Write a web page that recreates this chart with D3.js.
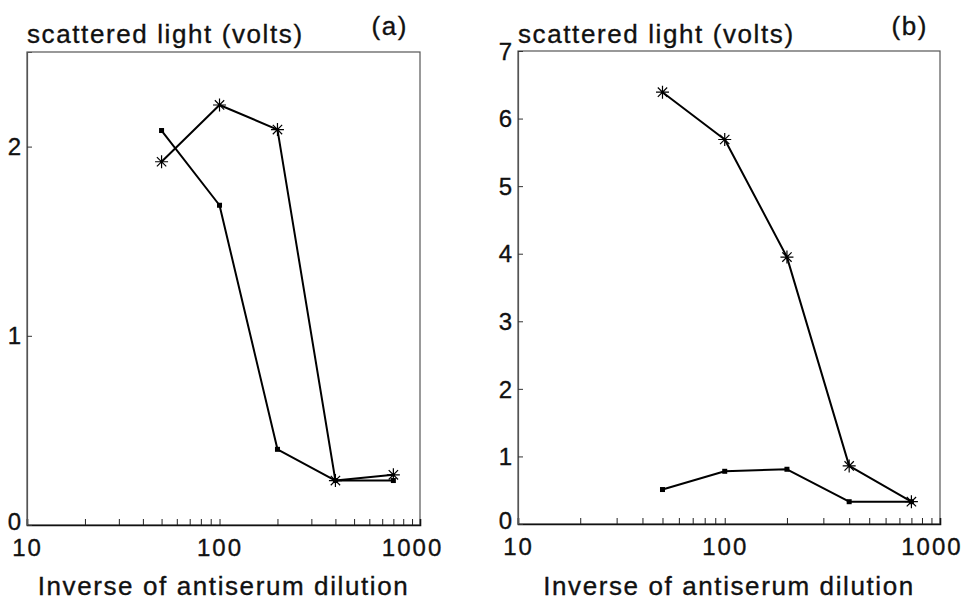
<!DOCTYPE html>
<html>
<head>
<meta charset="utf-8">
<script src="https://cdn.jsdelivr.net/npm/d3@7"></script>
<style>
  body { margin: 0; background: #fff; }
  text { font-family: "Liberation Sans", Arial, Helvetica, sans-serif; fill: #111; stroke: #111; stroke-width: 0.35px; }
  .lbl { font-size: 26px; letter-spacing: 1.6px; }
  .tick text { font-size: 24px; letter-spacing: 2px; }
</style>
</head>
<body>
<svg id="chart" width="972" height="600"></svg>
<script>
// dilutions (x) shared by both panels
const dilution = [50, 100, 200, 400, 800];

// panel (a)
const aStar = [1.92, 2.22, 2.09, 0.235, 0.265];
const aDot = [2.085, 1.69, 0.40, 0.235, 0.235];
const aYTicks = [0, 1, 2];

// panel (b)
const bStar = [6.39, 5.69, 3.95, 0.86, 0.33];
const bDot = [0.51, 0.78, 0.81, 0.33, 0.33];
const bYTicks = [0, 1, 2, 3, 4, 5, 6, 7];

const xMinor = [10, 20, 30, 40, 50, 60, 70, 80, 90, 100, 200, 300, 400, 500, 600, 700, 800, 900, 1000];
const xLabels = [10, 100, 1000];

const svg = d3.select('#chart');

function drawPanel(p) {
    const g = svg.append('g');
    const x = d3.scaleLog().domain([10, 1100]).range([p.left, p.right]);
    const y = d3.scaleLinear().domain([0, p.yMax]).range([p.bottom, p.top]);

    // frame
    g.append('rect')
        .attr('x', p.left).attr('y', p.top)
        .attr('width', p.right - p.left).attr('height', p.bottom - p.top)
        .attr('fill', 'none').attr('stroke', '#555').attr('stroke-width', 1.2);

    // x axis, ticks point up into the plot
    const xAxis = d3.axisBottom(x)
        .tickValues(xMinor)
        .tickSize(-6)
        .tickPadding(14)
        .tickFormat(d => xLabels.includes(d) ? String(d) : '');
    const gx = g.append('g').attr('transform', 'translate(0,' + p.bottom + ')').call(xAxis);
    gx.select('.domain').attr('stroke', '#111').attr('stroke-width', 1.6);
    gx.selectAll('.tick line').attr('stroke', '#222');

    // y axis, ticks point right into the plot
    const yAxis = d3.axisLeft(y).tickValues(p.yTicks).tickSize(-5).tickPadding(4).tickFormat(d3.format('d'));
    const gy = g.append('g').attr('transform', 'translate(' + p.left + ',0)').call(yAxis);
    gy.select('.domain').attr('stroke', '#555').attr('stroke-width', 1.2);
    gy.selectAll('.tick line').attr('stroke', '#333');
    // the 0 label sits a little higher so it clears the 10 below it
    gy.selectAll('.tick text').attr('dy', d => d === 0 ? '0.2em' : '0.34em');

    const line = d3.line().x((d, i) => x(dilution[i])).y(d => y(d));

    [p.dot, p.star].forEach(s => {
        g.append('path').datum(s).attr('d', line)
            .attr('fill', 'none').attr('stroke', '#000').attr('stroke-width', 2).attr('stroke-linejoin', 'round');
    });

    // square dots
    g.selectAll('rect.dot').data(p.dot).join('rect').attr('class', 'dot')
        .attr('x', (d, i) => x(dilution[i]) - 2.5).attr('y', d => y(d) - 2.5)
        .attr('width', 5).attr('height', 5).attr('fill', '#000');

    // asterisks
    const r = 6.5, rd = r * 0.72;
    const star = 'M' + (-r) + ',0H' + r + 'M0,' + (-r) + 'V' + r +
        'M' + (-rd) + ',' + (-rd) + 'L' + rd + ',' + rd + 'M' + (-rd) + ',' + rd + 'L' + rd + ',' + (-rd);
    g.selectAll('path.star').data(p.star).join('path').attr('class', 'star')
        .attr('transform', (d, i) => 'translate(' + x(dilution[i]) + ',' + y(d) + ')')
        .attr('d', star).attr('stroke', '#000').attr('stroke-width', 1.2).attr('fill', 'none');

    // texts
    g.append('text').attr('class', 'lbl').attr('x', p.left).attr('y', 43).text('scattered light (volts)');
    g.append('text').attr('class', 'lbl').attr('x', p.right - 12).attr('y', 35)
        .attr('text-anchor', 'end').text(p.tag);
    g.append('text').attr('class', 'lbl').attr('x', (p.left + p.right) / 2).attr('y', 595)
        .attr('text-anchor', 'middle').text('Inverse of antiserum dilution');
}

drawPanel({ left: 27, right: 420, top: 52, bottom: 525, yMax: 2.5, yTicks: aYTicks, star: aStar, dot: aDot, tag: '(a)' });
drawPanel({ left: 518, right: 940, top: 51, bottom: 524, yMax: 7, yTicks: bYTicks, star: bStar, dot: bDot, tag: '(b)' });
</script>
</body>
</html>
